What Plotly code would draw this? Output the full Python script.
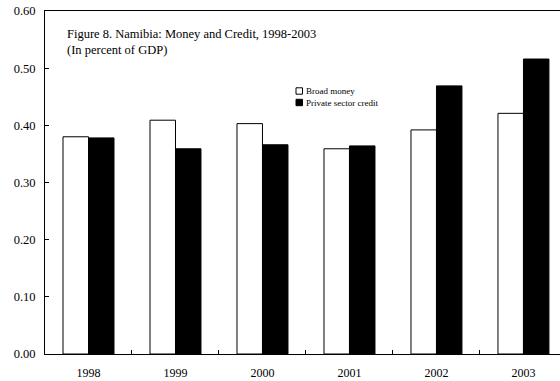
import plotly.graph_objects as go

years = ["1998", "1999", "2000", "2001", "2002", "2003"]
broad_money = [0.380, 0.409, 0.403, 0.359, 0.392, 0.421]
private_credit = [0.378, 0.359, 0.366, 0.364, 0.469, 0.516]
y_ticks = [0.0, 0.1, 0.2, 0.3, 0.4, 0.5, 0.6]
y_tick_labels = ["0.00", "0.10", "0.20", "0.30", "0.40", "0.50", "0.60"]
series_names = ["Broad money", "Private sector credit"]
title_lines = ["Figure 8. Namibia: Money and Credit, 1998-2003", "(In percent of GDP)"]

FONT = "Liberation Serif, Times New Roman, serif"
W, H = 560, 381
L, R, T, B = 45, 0, 11, 27
PW, PH = W - L - R, H - T - B


def px(x):
    return (x - L) / PW


def py(y):
    return (H - B - y) / PH


fig = go.Figure()
fig.add_trace(go.Bar(x=years, y=broad_money, name=series_names[0],
                     marker=dict(color="white", line=dict(color="black", width=1))))
fig.add_trace(go.Bar(x=years, y=private_credit, name=series_names[1],
                     marker=dict(color="black", line=dict(color="black", width=1))))

fig.update_layout(
    width=W, height=H,
    margin=dict(l=L, r=R, t=T, b=B, pad=0),
    paper_bgcolor="white", plot_bgcolor="white",
    barmode="group", bargap=0.414, bargroupgap=0,
    showlegend=False,
    font=dict(family=FONT, size=12, color="black"),
)
fig.update_xaxes(
    type="category", range=[-0.5, 5.42],
    showline=True, linecolor="black", linewidth=1, mirror=True,
    ticks="inside", ticklen=4, tickcolor="black", tickson="boundaries",
    showgrid=False, zeroline=False,
    tickfont=dict(family=FONT, size=12), ticklabelstandoff=8,
)
fig.update_yaxes(
    range=[0, 0.6], tickvals=y_ticks, ticktext=y_tick_labels,
    showline=True, linecolor="black", linewidth=1,
    ticks="inside", ticklen=4, tickcolor="black",
    showgrid=False, zeroline=False,
    tickfont=dict(family=FONT, size=12.5), ticklabelstandoff=6,
)

fig.add_annotation(
    xref="paper", yref="paper", x=px(65), y=py(42),
    xanchor="left", yanchor="middle", align="left", showarrow=False,
    text="<br>".join(title_lines), font=dict(family=FONT, size=12.5),
)

# manual legend
for i, (name, fill) in enumerate(zip(series_names, ["white", "black"])):
    yc = 91 + i * 11.5
    fig.add_shape(type="rect", xref="paper", yref="paper",
                  x0=px(296), x1=px(302.5), y0=py(yc - 3.2), y1=py(yc + 3.2),
                  fillcolor=fill, line=dict(color="black", width=1))
    fig.add_annotation(xref="paper", yref="paper", x=px(304), y=py(yc),
                       xanchor="left", yanchor="middle", showarrow=False,
                       text=name, font=dict(family=FONT, size=9))

fig.write_html("out.html")
